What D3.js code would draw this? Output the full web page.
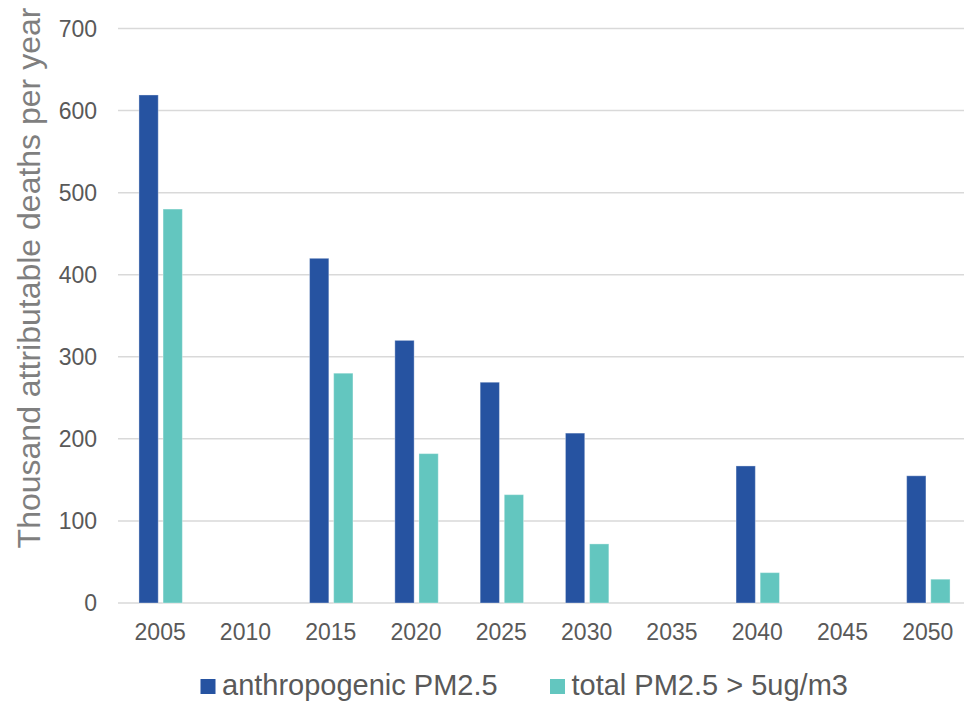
<!DOCTYPE html>
<html>
<head>
<meta charset="utf-8">
<script src="https://cdn.jsdelivr.net/npm/d3@7"></script>
<style>
  html, body { margin: 0; padding: 0; background: #fff; }
  svg { display: block; font-family: "Liberation Sans", Arial, sans-serif; }
</style>
</head>
<body>
<svg id="chart" width="964" height="702"></svg>
<script>
const categories = ["2005", "2010", "2015", "2020", "2025", "2030", "2035", "2040", "2045", "2050"];
const seriesNames = ["anthropogenic PM2.5", "total PM2.5 > 5ug/m3"];
const anthropogenic = [619, null, 420, 320, 269, 207, null, 167, null, 155];
const totalAbove5 = [480, null, 280, 182, 132, 72, null, 37, null, 29];
const yTicks = [0, 100, 200, 300, 400, 500, 600, 700];
const yTitle = "Thousand attributable deaths per year";
const colors = ["#2653a1", "#63c6bf"];

(function () {
const svg = d3.select("#chart");
const plotLeft = 118, plotRight = 971, plotTop = 28.5, plotBottom = 603;

const y = d3.scaleLinear().domain([0, 700]).range([plotBottom, plotTop]);
const x0 = d3.scaleBand().domain(categories).range([plotLeft, plotRight]).padding(0);
const groupW = 43.4;
const x1 = d3.scaleBand().domain([0, 1]).range([0, groupW]).paddingInner(0.2).paddingOuter(0);

// gridlines
svg.append("g").selectAll("line").data(yTicks).join("line")
  .attr("x1", plotLeft).attr("x2", 964)
  .attr("y1", d => y(d)).attr("y2", d => y(d))
  .attr("stroke", "#d9d9d9").attr("stroke-width", 1.5);

// y tick labels
svg.append("g").selectAll("text").data(yTicks).join("text")
  .attr("x", 97).attr("y", d => y(d)).attr("dy", "0.35em")
  .attr("text-anchor", "end").attr("font-size", 23).attr("fill", "#595959")
  .text(d => d);

// y title
svg.append("text")
  .attr("transform", "translate(40,278) rotate(-90)")
  .attr("text-anchor", "middle").attr("font-size", 32).attr("fill", "#7f7f7f")
  .text(yTitle);

// bars
const series = [anthropogenic, totalAbove5];
series.forEach((vals, si) => {
  svg.append("g").selectAll("rect")
    .data(categories.map((c, i) => ({ c, v: vals[i] })).filter(d => d.v != null))
    .join("rect")
    .attr("x", d => x0(d.c) + (x0.bandwidth() - groupW) / 2 + x1(si))
    .attr("width", x1.bandwidth())
    .attr("y", d => y(d.v))
    .attr("height", d => y(0) - y(d.v))
    .attr("fill", colors[si])
    .attr("stroke", "#ffffff").attr("stroke-opacity", 0.35).attr("stroke-width", 1);
});

// x labels
svg.append("g").selectAll("text").data(categories).join("text")
  .attr("x", d => x0(d) + x0.bandwidth() / 2 - 0.5)
  .attr("y", 640)
  .attr("text-anchor", "middle").attr("font-size", 23).attr("fill", "#595959")
  .text(d => d);

// legend
const legendX = [200.5, 550];
seriesNames.forEach((name, i) => {
  const g = svg.append("g");
  g.append("rect").attr("x", legendX[i]).attr("y", 679).attr("width", 15).attr("height", 15)
    .attr("fill", colors[i]);
  g.append("text").attr("x", legendX[i] + 21.5).attr("y", 695)
    .attr("font-size", 29).attr("fill", "#595959").text(name);
});
})();
</script>
</body>
</html>
